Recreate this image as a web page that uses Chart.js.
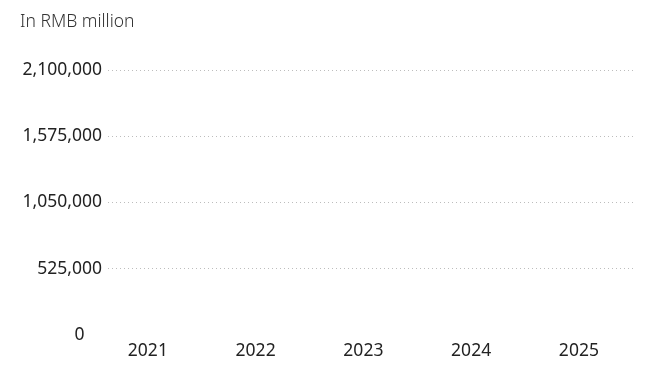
<!DOCTYPE html>
<html>
<head>
<meta charset="utf-8">
<script src="https://cdn.jsdelivr.net/npm/chart.js@4"></script>
<style>
    html, body { margin: 0; padding: 0; background: #ffffff; }
    #wrap { width: 661px; height: 380px; position: relative; }
</style>
</head>
<body>
<div id="wrap"><canvas id="chart"></canvas></div>
<script>
// The reference shows an empty frame: axes and labels, no bars drawn.
const years = [2021, 2022, 2023, 2024, 2025];
const values = [null, null, null, null, null];
const yTicks = [0, 525000, 1050000, 1575000, 2100000];

const FONT = "'Noto Sans', 'Open Sans', sans-serif";

const ctx = document.getElementById('chart').getContext('2d');

const chart = new Chart(ctx, {
    type: 'bar',
    data: {
        datasets: [{
            data: years.map(function (year, i) { return { x: year, y: values[i] }; }),
            backgroundColor: '#c8102e'
        }]
    },
    options: {
        responsive: true,
        maintainAspectRatio: false,
        animation: false,
        layout: { padding: { left: 20, right: 25, top: 0, bottom: 12 } },
        plugins: {
            legend: { display: false },
            tooltip: { enabled: false },
            title: {
                display: true,
                text: 'In RMB million',
                align: 'start',
                color: '#333333',
                font: { family: FONT, size: 17.5, weight: 300 },
                padding: { top: 12, bottom: 37 }
            }
        },
        scales: {
            x: {
                type: 'linear',
                offset: false,
                min: 2020.63,
                max: 2025.53,
                grid: { display: false, drawTicks: false },
                border: { display: false },
                afterBuildTicks: function (scale) {
                    scale.ticks = years.map(function (y) { return { value: y }; });
                },
                ticks: {
                    padding: 6,
                    color: '#222222',
                    font: { family: FONT, size: 17.5 },
                    callback: function (value) { return String(value); }
                }
            },
            y: {
                min: 0,
                max: 2100000,
                afterBuildTicks: function (scale) {
                    scale.ticks = yTicks.map(function (v) { return { value: v }; });
                },
                afterFit: function (scale) { scale.width = 88; },
                grid: {
                    drawTicks: false,
                    color: function (c) {
                        return c.tick && c.tick.value === 0 ? 'rgba(0,0,0,0)' : '#bdbdbd';
                    },
                    lineWidth: 1
                },
                border: { display: false, dash: [1, 3] },
                ticks: {
                    padding: 6,
                    color: '#222222',
                    font: { family: FONT, size: 17.5 },
                    callback: function (value) {
                        // zero sits a little further left in the reference
                        if (value === 0) return '0\u2002\u2002';
                        return value.toLocaleString('en-US');
                    }
                }
            }
        }
    }
});
</script>
</body>
</html>
